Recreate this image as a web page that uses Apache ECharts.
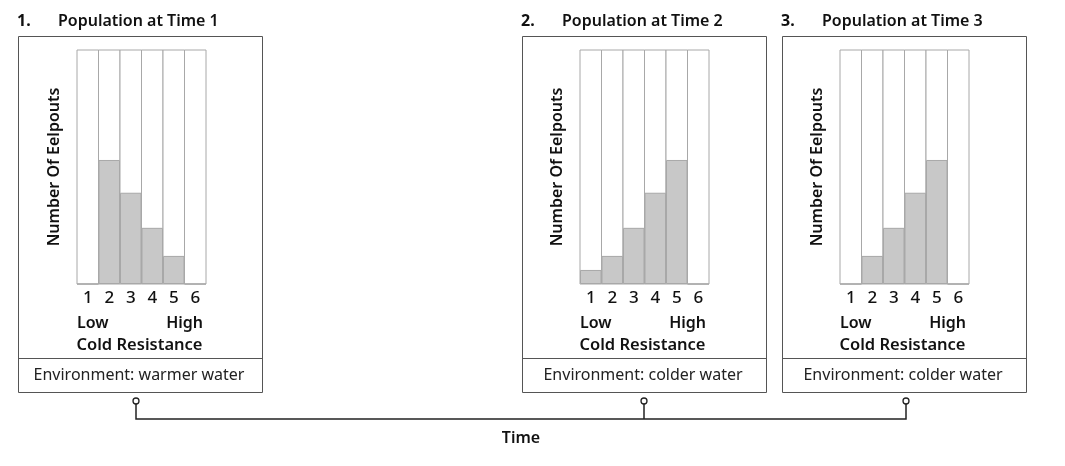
<!DOCTYPE html>
<html>
<head>
<meta charset="utf-8">
<script src="https://cdn.jsdelivr.net/npm/echarts@6/dist/echarts.min.js"></script>
<style>
  html, body { margin: 0; padding: 0; background: #fff; }
  #chart { width: 1065px; height: 466px; }
</style>
</head>
<body>
<div id="chart"></div>
<script>
// cold resistance levels on the x axis
const categories = ['1', '2', '3', '4', '5', '6']
// number of eelpouts per level (share of column height, 0-100)
const time1 = [0, 53, 39, 24, 12, 0]
const time2 = [6, 12, 24, 39, 53, 0]
const time3 = [0, 12, 24, 39, 53, 0]
const titles = ['Population at Time 1', 'Population at Time 2', 'Population at Time 3']
const environments = ['Environment: warmer water', 'Environment: colder water', 'Environment: colder water']

const font = '"Noto Sans", sans-serif'
const panels = [
  { boxX: 18, gridX: 77, data: time1 },
  { boxX: 522, gridX: 580, data: time2 },
  { boxX: 782, gridX: 840, data: time3 }
]
const gridW = 129
const gridTop = 50
const gridH = 234
const boxY = 36
const boxW = 244
const boxH = 356

const chart = echarts.init(document.getElementById('chart'))

const grids = []
const xAxes = []
const yAxes = []
const series = []
const graphics = []

panels.forEach(function(p, i) {
  grids.push({ left: p.gridX, top: gridTop, width: gridW, height: gridH })
  xAxes.push({
    type: 'category',
    gridIndex: i,
    data: categories,
    axisLine: { show: false },
    axisTick: { show: false },
    axisLabel: { fontSize: 17, fontWeight: 500, color: '#111', margin: 6, fontFamily: font }
  })
  yAxes.push({
    type: 'value',
    gridIndex: i,
    min: 0,
    max: 100,
    axisLine: { show: false },
    axisTick: { show: false },
    axisLabel: { show: false },
    splitLine: { show: false },
    name: 'Number Of Eelpouts',
    nameLocation: 'middle',
    nameRotate: 90,
    nameGap: 15,
    nameTextStyle: { fontSize: 16, fontWeight: 600, color: '#111', fontFamily: font }
  })
  series.push({
    type: 'bar',
    xAxisIndex: i,
    yAxisIndex: i,
    data: p.data,
    barCategoryGap: 0,
    showBackground: true,
    backgroundStyle: { color: '#fff', borderColor: '#a8a8a8', borderWidth: 1 },
    itemStyle: { color: '#c8c8c8', borderColor: '#a8a8a8', borderWidth: 1 },
    silent: true,
    animation: false
  })

  // panel frame + divider
  graphics.push({
    type: 'rect',
    shape: { x: p.boxX + 0.5, y: boxY + 0.5, width: boxW, height: boxH },
    style: { fill: 'none', stroke: '#555', lineWidth: 1 },
    z: 10
  })
  graphics.push({
    type: 'line',
    shape: { x1: p.boxX, y1: 358.5, x2: p.boxX + boxW, y2: 358.5 },
    style: { stroke: '#555', lineWidth: 1 },
    z: 10
  })
  // titles
  graphics.push({
    type: 'text',
    x: p.boxX - 1, y: 21,
    style: { text: (i + 1) + '.', font: '700 16px ' + font, fill: '#111', textVerticalAlign: 'middle' }
  })
  graphics.push({
    type: 'text',
    x: p.boxX + 40, y: 21,
    style: { text: titles[i], font: '600 16px ' + font, fill: '#111', textVerticalAlign: 'middle' }
  })
  // low / high / cold resistance
  graphics.push({
    type: 'text',
    x: p.gridX, y: 323,
    style: { text: 'Low', font: '600 16px ' + font, fill: '#111', textVerticalAlign: 'middle' }
  })
  graphics.push({
    type: 'text',
    x: p.gridX + gridW - 3, y: 323,
    style: { text: 'High', font: '600 16px ' + font, fill: '#111', textAlign: 'right', textVerticalAlign: 'middle' }
  })
  graphics.push({
    type: 'text',
    x: p.gridX + gridW / 2 - 2, y: 345,
    style: { text: 'Cold Resistance', font: '600 16.5px ' + font, fill: '#111', textAlign: 'center', textVerticalAlign: 'middle' }
  })
  graphics.push({
    type: 'text',
    x: p.boxX + boxW / 2 - 1, y: 375,
    style: { text: environments[i], font: '400 16px ' + font, fill: '#222', textAlign: 'center', textVerticalAlign: 'middle' }
  })
})

// time connector
const stems = [136, 644, 906]
graphics.push({
  type: 'polyline',
  shape: { points: [[136, 404], [136, 419], [906, 419], [906, 404]] },
  style: { stroke: '#222', lineWidth: 1.5, fill: 'none' }
})
graphics.push({
  type: 'line',
  shape: { x1: 644, y1: 404, x2: 644, y2: 419 },
  style: { stroke: '#222', lineWidth: 1.5 }
})
stems.forEach(function(x) {
  graphics.push({
    type: 'circle',
    shape: { cx: x, cy: 401, r: 3 },
    style: { fill: '#fff', stroke: '#222', lineWidth: 1.3 },
    z: 5
  })
})
graphics.push({
  type: 'text',
  x: 521, y: 438,
  style: { text: 'Time', font: '600 16px ' + font, fill: '#111', textAlign: 'center', textVerticalAlign: 'middle' }
})

const option = {
  backgroundColor: '#fff',
  animation: false,
  grid: grids,
  xAxis: xAxes,
  yAxis: yAxes,
  series: series,
  graphic: graphics
}
chart.setOption(option)
</script>
</body>
</html>
